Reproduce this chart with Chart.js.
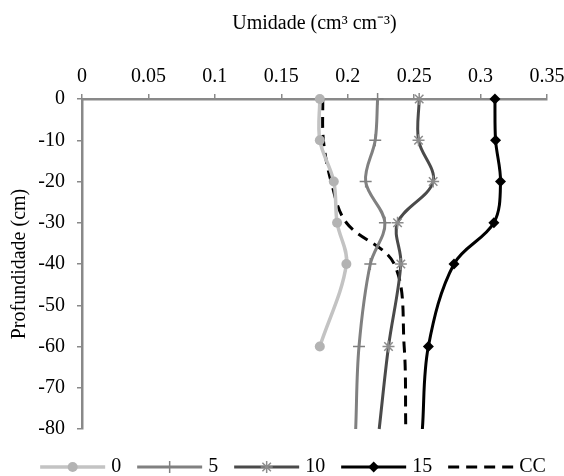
<!DOCTYPE html>
<html>
<head>
<meta charset="utf-8">
<script src="https://cdn.jsdelivr.net/npm/chart.js@4/dist/chart.umd.min.js"></script>
<style>
  html, body { margin: 0; padding: 0; background: #fff; }
</style>
</head>
<body>
<canvas id="chart" width="564" height="476"></canvas>
<script>
// depth (cm) and soil moisture (cm3 cm-3)
const depths0 = [0, -10, -20, -30, -40, -60];
const depths = [0, -10, -20, -30, -40, -60, -80];

const moisture0 = [0.179, 0.179, 0.1895, 0.192, 0.199, 0.179];
const moisture5 = [0.2225, 0.2207, 0.2135, 0.228, 0.217, 0.2085, 0.206];
const moisture10 = [0.2538, 0.2533, 0.2643, 0.2375, 0.240, 0.2307, 0.2237];
const moisture15 = [0.3108, 0.3113, 0.315, 0.310, 0.280, 0.2607, 0.2562];
const moistureCC = [0.1812, 0.1817, 0.1875, 0.199, 0.235, 0.2425, 0.2437];

const seriesLabels = ['0', '5', '10', '15', 'CC'];
const xTickValues = [0, 0.05, 0.1, 0.15, 0.2, 0.25, 0.3, 0.35];
const yTickValues = [0, -10, -20, -30, -40, -50, -60, -70, -80];

const font = { family: '"Liberation Serif", "Times New Roman", serif', size: 20 };
const axisGray = '#898989';

function toPoints(xs, ys) {
    return xs.map((v, i) => ({ x: v, y: ys[i] }));
}

// no marker on the last point (-80) of the lines that run to the bottom
function radii(n, r) {
    return Array.from({ length: n }, (_, i) => (i === n - 1 ? 0 : r));
}

const bottomLegend = {
    id: 'bottomLegend',
    afterDraw(chart) {
        const ctx = chart.ctx;
        const sets = chart.data.datasets;
        const lineLen = 65, gapText = 6, gapItem = 16, y = 467;
        ctx.save();
        ctx.font = font.size + 'px ' + font.family;
        const widths = sets.map(d => ctx.measureText(d.label).width);
        let total = 0;
        widths.forEach(w => { total += lineLen + gapText + w; });
        total += gapItem * (sets.length - 1);
        let x = 293 - total / 2;
        sets.forEach((d, i) => {
            ctx.strokeStyle = d.borderColor;
            ctx.lineWidth = d.borderWidth;
            ctx.setLineDash(d.borderDash || []);
            ctx.beginPath();
            ctx.moveTo(x, y);
            ctx.lineTo(x + lineLen, y);
            ctx.stroke();
            ctx.setLineDash([]);
            if (d.pointStyle) {
                const r = Array.isArray(d.pointRadius) ? d.pointRadius[0] : d.pointRadius;
                ctx.fillStyle = d.pointBackgroundColor;
                ctx.strokeStyle = d.pointBorderColor;
                ctx.lineWidth = d.pointBorderWidth;
                Chart.helpers.drawPoint(ctx, {
                    pointStyle: d.pointStyle, radius: r, rotation: 0, borderWidth: d.pointBorderWidth
                }, x + lineLen / 2, y);
            }
            ctx.fillStyle = '#000';
            ctx.textBaseline = 'middle';
            ctx.textAlign = 'left';
            ctx.fillText(d.label, x + lineLen + gapText, y);
            x += lineLen + gapText + widths[i] + gapItem;
        });
        ctx.restore();
    }
};

new Chart(document.getElementById('chart').getContext('2d'), {
    type: 'scatter',
    data: {
        datasets: [
            {
                label: seriesLabels[0],
                data: toPoints(moisture0, depths0),
                showLine: true,
                borderColor: '#c3c3c3',
                borderWidth: 3.5,
                pointStyle: 'circle',
                pointRadius: 5,
                pointBackgroundColor: '#b3b3b3',
                pointBorderColor: '#b3b3b3',
                pointBorderWidth: 0
            },
            {
                label: seriesLabels[1],
                data: toPoints(moisture5, depths),
                showLine: true,
                borderColor: '#808080',
                borderWidth: 3,
                pointStyle: 'cross',
                pointRadius: radii(depths.length, 6),
                pointBackgroundColor: '#808080',
                pointBorderColor: '#808080',
                pointBorderWidth: 1.5
            },
            {
                label: seriesLabels[2],
                data: toPoints(moisture10, depths),
                showLine: true,
                borderColor: '#4a4a4a',
                borderWidth: 3,
                pointStyle: 'star',
                pointRadius: radii(depths.length, 6),
                pointBackgroundColor: '#8c8c8c',
                pointBorderColor: '#8c8c8c',
                pointBorderWidth: 1.5
            },
            {
                label: seriesLabels[3],
                data: toPoints(moisture15, depths),
                showLine: true,
                borderColor: '#000',
                borderWidth: 3,
                pointStyle: 'rectRot',
                pointRadius: radii(depths.length, 5.5),
                pointBackgroundColor: '#000',
                pointBorderColor: '#000',
                pointBorderWidth: 0
            },
            {
                label: seriesLabels[4],
                data: toPoints(moistureCC, depths),
                showLine: true,
                borderColor: '#000',
                borderWidth: 3,
                borderDash: [11, 7],
                pointRadius: 0,
                pointStyle: false
            }
        ]
    },
    options: {
        responsive: false,
        animation: false,
        devicePixelRatio: 1,
        layout: { padding: { top: 0, left: 0, right: 17, bottom: 47 } },
        elements: { line: { tension: 0.35 } },
        datasets: { scatter: { clip: false } },
        plugins: {
            legend: { display: false },
            tooltip: { enabled: false }
        },
        scales: {
            x: {
                type: 'linear',
                position: 'top',
                min: 0,
                max: 0.35,
                afterFit(s) {
                    s.height = 99;
                    s.paddingLeft = 0;
                    s.paddingRight = 0;
                },
                afterBuildTicks(s) { s.ticks = xTickValues.map(v => ({ value: v })); },
                ticks: {
                    padding: 5,
                    color: '#000',
                    font: font,
                    maxRotation: 0,
                    callback: v => String(+v.toFixed(2))
                },
                grid: { drawOnChartArea: false, drawTicks: true, tickLength: 5, color: axisGray, lineWidth: 1.5 },
                border: { display: true, color: axisGray, width: 2.5 },
                title: {
                    display: true,
                    text: 'Umidade (cm³ cm⁻³)',
                    color: '#000',
                    font: font,
                    padding: { top: 12, bottom: 0 }
                }
            },
            y: {
                type: 'linear',
                min: -80,
                max: 0,
                afterFit(s) {
                    s.width = 82;
                    s.paddingTop = 0;
                    s.paddingBottom = 0;
                },
                afterBuildTicks(s) { s.ticks = yTickValues.map(v => ({ value: v })); },
                ticks: {
                    padding: 12,
                    color: '#000',
                    font: font,
                    callback: v => String(v)
                },
                grid: { drawOnChartArea: false, drawTicks: true, tickLength: 5, color: axisGray, lineWidth: 1.5 },
                border: { display: true, color: axisGray, width: 2.5 },
                title: {
                    display: true,
                    text: 'Profundidade (cm)',
                    color: '#000',
                    font: font,
                    padding: { top: 8, bottom: 0 }
                }
            }
        }
    },
    plugins: [bottomLegend]
});
</script>
</body>
</html>
